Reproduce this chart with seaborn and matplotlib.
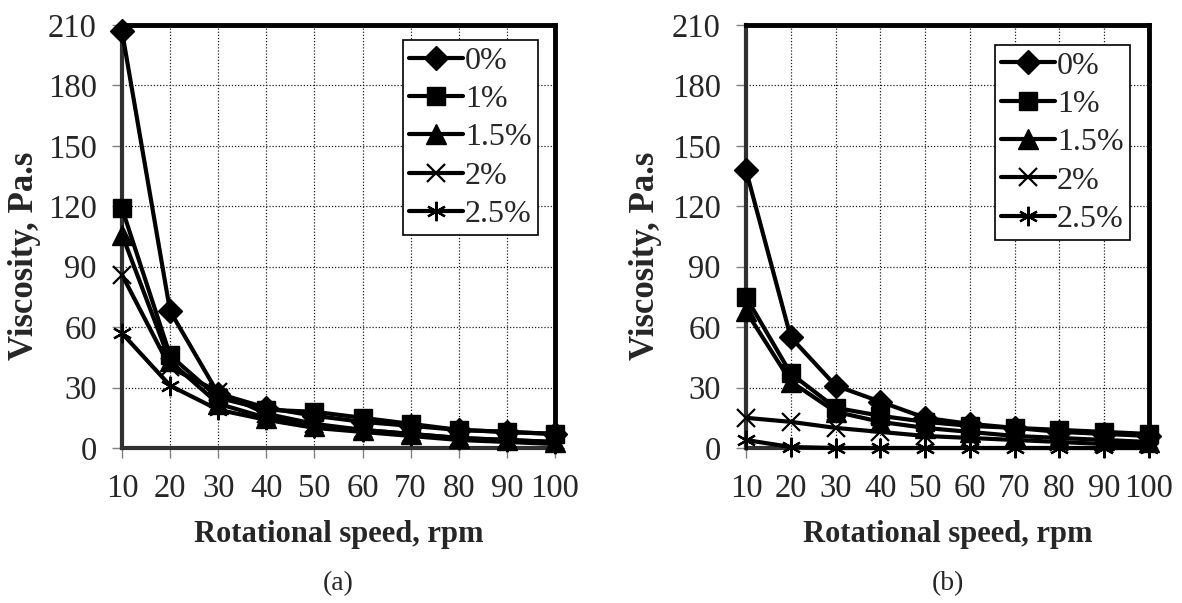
import matplotlib
matplotlib.use("Agg")
import matplotlib.pyplot as plt
import seaborn as sns
import pandas as pd

sns.set_theme(style="white")
plt.rcParams['font.family'] = ['Liberation Serif', 'DejaVu Serif']

speed = [10, 20, 30, 40, 50, 60, 70, 80, 90, 100]
labels = ["0%", "1%", "1.5%", "2%", "2.5%"]

a_0 = [207, 68, 27, 20, 16, 13, 11, 9, 8, 7]
a_1 = [119, 46, 25, 19, 18, 15, 12, 9, 8, 7]
a_15 = [106, 43, 22, 15, 11, 9, 7, 5, 4, 3]
a_2 = [86, 40, 28, 17, 12, 9, 7, 5, 4, 3]
a_25 = [57, 31, 19, 14, 10, 8, 6, 4, 3, 2]

b_0 = [138, 55, 31, 23, 15, 12, 10, 8, 7, 6]
b_1 = [75, 37, 20, 16, 13, 11, 10, 9, 8, 7]
b_15 = [68, 33, 18, 13, 10, 8, 6, 5, 4, 3]
b_2 = [15, 13, 10, 8, 6, 5, 4, 3, 2, 2]
b_25 = [4, 0.5, 0, 0, 0, 0, 0, 0, 0, 0]

yticks = [0, 30, 60, 90, 120, 150, 180, 210]
xticks = speed

markers = ['D', 's', '^', 'x', (6, 2, 0)]
msizes = [12.5, 13.5, 14.5, 13, 14]
mews = [1, 1, 1, 1.6, 1.6]

fig = plt.figure(figsize=(11.82, 6.03), dpi=100)
axA = fig.add_axes([0.1032, 0.2570, 0.3663, 0.7015])
axB = fig.add_axes([0.6311, 0.2570, 0.3410, 0.7015])


def draw(ax, series, panel, leg_anchor, ylab_x):
    for lab, vals, mk, ms, mew in zip(labels, series, markers, msizes, mews):
        df = pd.DataFrame({"speed": speed, "visc": vals})
        sns.lineplot(data=df, x="speed", y="visc", ax=ax, color="black",
                     marker=mk, markersize=ms, markeredgewidth=mew,
                     markeredgecolor="black", markerfacecolor="black",
                     linewidth=3, label=lab, clip_on=False, zorder=3)
    ax.set_xlim(10, 100)
    ax.set_ylim(0, 210)
    ax.set_xticks(xticks)
    ax.set_yticks(yticks)
    ax.grid(True, color="#202020", linestyle=(0, (1, 1.5)), linewidth=0.9)
    ax.set_axisbelow(True)
    for s in ["top", "right"]:
        ax.spines[s].set_color("black")
        ax.spines[s].set_linewidth(3.5)
    for s in ["left", "bottom"]:
        ax.spines[s].set_color("#303030")
        ax.spines[s].set_linewidth(3)
    ax.tick_params(axis="both", direction="out", length=7, width=1,
                   color="#808080", labelsize=23.5, pad=11,
                   bottom=True, left=True)
    ax.set_xlabel("Rotational speed, rpm", fontsize=22, fontweight="bold")
    ax.xaxis.label.set_va("center")
    ax.xaxis.set_label_coords(0.5, -0.205)
    ax.set_ylabel("Viscosity, Pa.s", fontsize=25, fontweight="bold")
    ax.yaxis.label.set_va("center")
    ax.yaxis.set_label_coords(ylab_x, 0.455)
    leg = ax.legend(loc="upper right", bbox_to_anchor=leg_anchor,
                    fontsize=23, frameon=True, fancybox=False,
                    edgecolor="black", framealpha=1, handlelength=1.7,
                    handletextpad=0.05, labelspacing=0.28, borderpad=0.2,
                    borderaxespad=0)
    leg.get_frame().set_linewidth(1.2)
    ax.text(0.5, -0.32, panel, transform=ax.transAxes, ha="center",
            va="center", fontsize=20)


draw(axA, [a_0, a_1, a_15, a_2, a_25], "(a)", (0.961, 0.9645), -0.224)
draw(axB, [b_0, b_1, b_15, b_2, b_25], "(b)", (0.953, 0.953), -0.25)

fig.savefig("out.png", dpi=100)
